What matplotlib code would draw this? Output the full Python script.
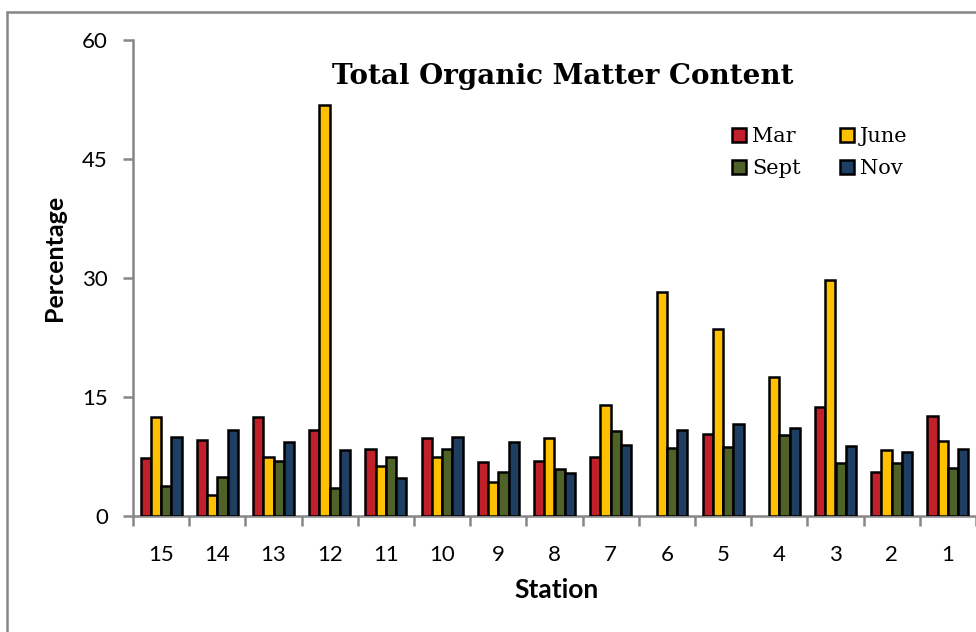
import numpy as np
import matplotlib
matplotlib.use("Agg")
import matplotlib.pyplot as plt
from matplotlib.patches import Rectangle

# Station order as shown on the x axis
stations = ["15", "14", "13", "12", "11", "10", "9", "8", "7", "6", "5", "4", "3", "2", "1"]

# no March sample at stations 6 and 4
mar = [7.3, 9.6, 12.5, 10.8, 8.4, 9.8, 6.8, 6.9, 7.4, np.nan, 10.3, np.nan, 13.8, 5.5, 12.6]
june = [12.5, 2.6, 7.4, 51.8, 6.3, 7.4, 4.3, 9.8, 14.0, 28.2, 23.6, 17.5, 29.8, 8.3, 9.4]
sept = [3.8, 4.9, 6.9, 3.5, 7.5, 8.4, 5.5, 5.9, 10.7, 8.6, 8.7, 10.2, 6.7, 6.7, 6.0]
nov = [9.9, 10.8, 9.3, 8.3, 4.8, 9.9, 9.3, 5.4, 8.9, 10.8, 11.6, 11.1, 8.8, 8.1, 8.4]

series = [("Mar", mar, "#C0202A"),
          ("June", june, "#FFC000"),
          ("Sept", sept, "#4F6228"),
          ("Nov", nov, "#1F3E62")]

grey = "#878787"

fig = plt.figure(figsize=(9.76, 6.32), dpi=100)
ax = fig.add_axes([133 / 976, 1 - 516 / 632, 1 - 133 / 976, (516 - 40) / 632])

x = np.arange(len(stations))
w = 0.183
bars = {}
for i, (name, vals, col) in enumerate(series):
    bars[name] = ax.bar(x + (i - 1.5) * w, vals, w, color=col, edgecolor="black",
                        linewidth=1.8, label=name, zorder=3)

ax.set_xlim(-0.5, len(stations) - 0.5)
ax.set_ylim(0, 60)
ax.set_yticks([0, 15, 30, 45, 60])
ax.set_xticks(x)
ax.set_xticklabels(stations)
ax.set_xticks(np.arange(len(stations) + 1) - 0.5, minor=True)

for s in ["top", "right"]:
    ax.spines[s].set_visible(False)
for s in ["left", "bottom"]:
    ax.spines[s].set_color(grey)
    ax.spines[s].set_linewidth(1.8)

ax.tick_params(axis="y", length=7, width=1.8, color=grey, labelsize=16, pad=11)
ax.tick_params(axis="x", which="major", length=0, labelsize=16, pad=21)
ax.tick_params(axis="x", which="minor", length=7, width=1.8, color=grey)
for lab in ax.get_xticklabels() + ax.get_yticklabels():
    lab.set_fontfamily("Lato")

fig.text(557 / 976, 1 - 590 / 632, "Station", ha="center", va="center",
         fontsize=19, fontweight="bold", family="Lato")
fig.text(55 / 976, 1 - 258 / 632, "Percentage", ha="center", va="center", rotation=90,
         fontsize=18, fontweight="bold", family="Lato")

fig.text(563 / 976, 1 - 76 / 632, "Total Organic Matter Content", ha="center", va="center",
         fontsize=20, fontweight="bold", family="DejaVu Serif")

handles = [bars["Mar"], bars["Sept"], bars["June"], bars["Nov"]]
labels = ["Mar", "Sept", "June", "Nov"]
leg = fig.legend(handles, labels, loc="upper left", bbox_to_anchor=(722 / 976, 1 - 117 / 632),
                 ncol=2, frameon=False, prop={"family": "DejaVu Serif", "size": 15},
                 handlelength=0.65, handleheight=0.65, handletextpad=0.3,
                 columnspacing=1.9, labelspacing=0.6, borderpad=0)

# outer chart border (only left/top visible in the crop)
fig.add_artist(Rectangle((7 / 976, -0.2), 1.5, 0.2 + (1 - 12 / 632), transform=fig.transFigure,
                         fill=False, edgecolor=grey, linewidth=1.8, clip_on=False))

fig.savefig("out.png", dpi=100)
